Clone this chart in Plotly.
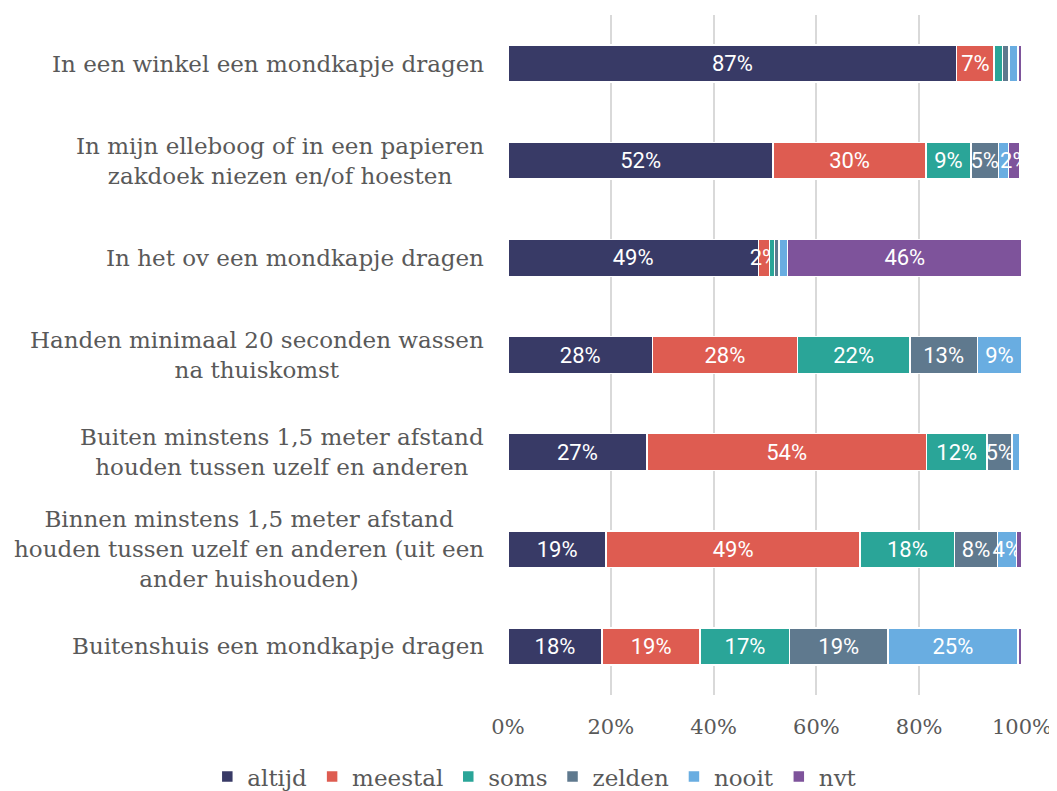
import plotly.graph_objects as go

categories = [
    "In een winkel een mondkapje dragen",
    "In mijn elleboog of in een papieren<br>zakdoek niezen en/of hoesten",
    "In het ov een mondkapje dragen",
    "Handen minimaal 20 seconden wassen<br>na thuiskomst",
    "Buiten minstens 1,5 meter afstand<br>houden tussen uzelf en anderen",
    "Binnen minstens 1,5 meter afstand<br>houden tussen uzelf en anderen (uit een<br>ander huishouden)",
    "Buitenshuis een mondkapje dragen",
]

altijd = [87.3, 51.6, 48.7, 28.1, 27.0, 19.1, 18.3]
meestal = [7.3, 29.7, 2.2, 28.2, 54.4, 49.4, 19.1]
soms = [1.6, 8.8, 0.9, 21.9, 11.8, 18.4, 17.4]
zelden = [1.3, 5.3, 0.9, 13.1, 4.9, 8.3, 19.1]
nooit = [1.7, 1.95, 1.7, 8.6, 1.4, 3.7, 25.3]
nvt = [0.8, 2.3, 45.6, 0.0, 0.0, 1.0, 0.8]

series = [
    ("altijd", altijd, "#383a66"),
    ("meestal", meestal, "#de5c51"),
    ("soms", soms, "#2aa598"),
    ("zelden", zelden, "#5f798e"),
    ("nooit", nooit, "#69ade1"),
    ("nvt", nvt, "#7e539b"),
]

tick_vals = [0, 20, 40, 60, 80, 100]
tick_text = ["0%", "20%", "40%", "60%", "80%", "100%"]

SERIF = "DejaVu Serif"
GREY = "#595959"

fig = go.Figure()
for name, vals, color in series:
    labels = [f"{round(v)}%" if v >= 2 else "" for v in vals]
    fig.add_trace(go.Bar(
        name=name, y=categories, x=vals, orientation="h",
        marker=dict(color=color, line=dict(color="white", width=1.5)),
        text=labels, textposition="inside", insidetextanchor="middle",
        constraintext="none", textangle=0, cliponaxis=True,
        textfont=dict(family="Roboto", size=22, color="white"),
        width=0.38, hoverinfo="skip",
    ))

for cat in categories:
    fig.add_annotation(
        x=0, xref="paper", y=cat, yref="y", text=cat, showarrow=False,
        xanchor="right", yanchor="middle", xshift=-22, align="center",
        font=dict(family=SERIF, size=23, color=GREY),
    )

# the page adds an 8px body margin, so the figure is 8px smaller on each side
fig.update_layout(
    barmode="stack",
    width=1049, height=783,
    margin=dict(l=500, r=35, t=7, b=96, autoexpand=False),
    paper_bgcolor="white", plot_bgcolor="white",
    xaxis=dict(
        range=[0, 100], tickvals=tick_vals, ticktext=tick_text,
        showgrid=True, gridcolor="#d9d9d9", gridwidth=2,
        zeroline=False, showline=False,
        tickfont=dict(family=SERIF, size=21, color=GREY),
        ticklabelstandoff=17,
    ),
    yaxis=dict(autorange="reversed", showticklabels=False, showgrid=False,
               zeroline=False, showline=False),
    legend=dict(
        orientation="h",
        x=-0.585, xanchor="left", y=-0.12, yanchor="middle",
        traceorder="normal", itemwidth=30,
        font=dict(family=SERIF, size=23, color=GREY),
    ),
    showlegend=True,
)

fig.write_html("out.html")
